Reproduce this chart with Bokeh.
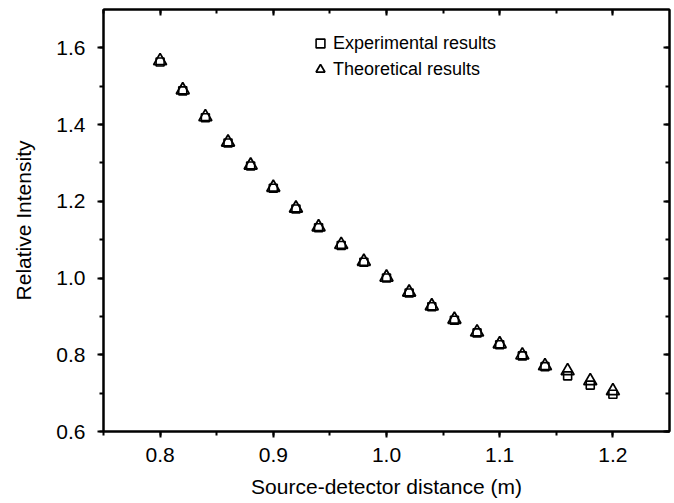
from bokeh.plotting import figure
from bokeh.models import (Range1d, LinearAxis, SingleIntervalTicker, NumeralTickFormatter,
                          Legend, LegendItem, ColumnDataSource)
from bokeh.embed import file_html
from bokeh.resources import INLINE

distance = [0.80, 0.82, 0.84, 0.86, 0.88, 0.90, 0.92, 0.94, 0.96, 0.98, 1.00,
            1.02, 1.04, 1.06, 1.08, 1.10, 1.12, 1.14, 1.16, 1.18, 1.20]
experimental = [1.563, 1.488, 1.418, 1.352, 1.292, 1.234, 1.180, 1.131, 1.085, 1.041, 1.000,
                0.961, 0.925, 0.890, 0.857, 0.826, 0.797, 0.769, 0.745, 0.721, 0.697]
theoretical = [1.566, 1.490, 1.420, 1.354, 1.294, 1.236, 1.182, 1.133, 1.087, 1.043, 1.002,
               0.963, 0.927, 0.892, 0.859, 0.828, 0.799, 0.771, 0.758, 0.732, 0.706]

FONT = "Liberation Sans"

src = ColumnDataSource(dict(x=distance, e=experimental, t=theoretical))

p = figure(width=674, height=503, output_backend="svg", toolbar_location=None,
           x_range=Range1d(0.75, 1.25), y_range=Range1d(0.6, 1.7),
           x_axis_type=None, y_axis_type=None,
           min_border_left=103, min_border_right=5, min_border_top=9, min_border_bottom=72)
p.grid.visible = False
p.outline_line_color = "black"
p.outline_line_width = 2
p.background_fill_color = "white"
p.border_fill_color = "white"

def style_axis(ax, inside=False, labels=True):
    ax.axis_line_width = 2
    ax.axis_line_color = "black"
    ax.major_tick_line_width = 2
    ax.minor_tick_line_width = 2
    ax.major_tick_line_color = "black"
    ax.minor_tick_line_color = "black"
    if inside:
        ax.major_tick_in, ax.major_tick_out = 6, 0
        ax.minor_tick_in, ax.minor_tick_out = 4, 0
    else:
        ax.major_tick_in, ax.major_tick_out = 0, 6
        ax.minor_tick_in, ax.minor_tick_out = 0, 4
    ax.major_label_text_font = FONT
    ax.major_label_text_font_size = "21px"
    ax.major_label_text_color = "black"
    ax.axis_label_text_font = FONT
    ax.axis_label_text_font_size = "21px"
    ax.axis_label_text_font_style = "normal"
    ax.axis_label_text_color = "black"
    if not labels:
        ax.major_label_text_font_size = "0px"
        ax.major_label_text_alpha = 0

xt = lambda: SingleIntervalTicker(interval=0.1, num_minor_ticks=2)
yt = lambda: SingleIntervalTicker(interval=0.2, num_minor_ticks=2)

bottom = LinearAxis(ticker=xt(), formatter=NumeralTickFormatter(format="0.0"),
                    axis_label="Source-detector distance (m)")
style_axis(bottom)
bottom.major_label_standoff = 10
bottom.axis_label_standoff = 10
left = LinearAxis(ticker=yt(), formatter=NumeralTickFormatter(format="0.0"),
                  axis_label="Relative Intensity")
style_axis(left)
left.major_label_standoff = 12
left.axis_label_standoff = 18
top = LinearAxis(ticker=xt())
style_axis(top, inside=True, labels=False)
top.major_label_standoff = 0
right = LinearAxis(ticker=yt())
style_axis(right, inside=True, labels=False)
right.major_label_standoff = 0

p.add_layout(bottom, "below")
p.add_layout(left, "left")
p.add_layout(top, "above")
p.add_layout(right, "right")

r_e = p.scatter("x", "e", source=src, marker="square", size=8, fill_alpha=0,
                line_color="black", line_width=1.6)
r_t = p.scatter("x", "t", source=src, marker="triangle", size=13, fill_alpha=0,
                line_color="black", line_width=1.8)

legend = Legend(items=[LegendItem(label="Experimental results", renderers=[r_e]),
                       LegendItem(label="Theoretical results", renderers=[r_t])],
                location=(206, 351), orientation="vertical",
                padding=0, margin=0, spacing=4, glyph_width=22, glyph_height=22,
                label_height=22, label_standoff=2,
                label_text_font=FONT, label_text_font_size="18px", label_text_color="black",
                border_line_alpha=0, background_fill_alpha=0)
p.add_layout(legend, "center")

open("out.html", "w").write(file_html(p, INLINE))
